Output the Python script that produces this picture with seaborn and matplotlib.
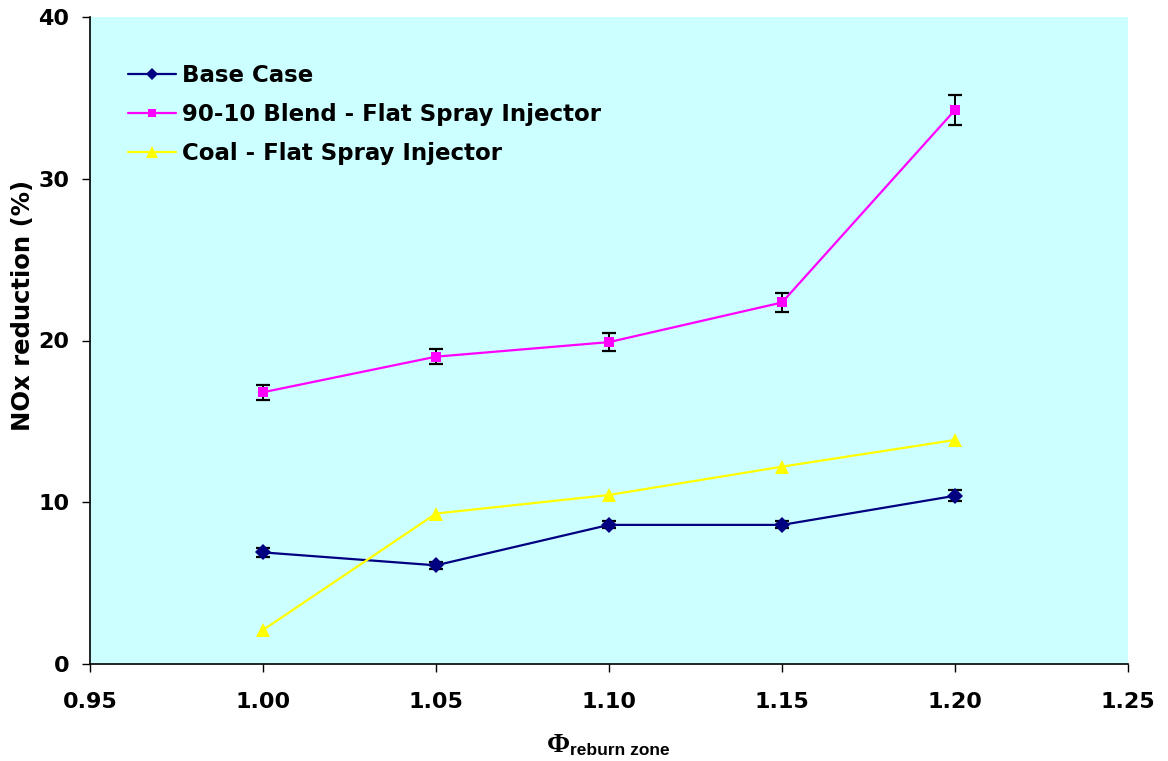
import matplotlib
matplotlib.use("Agg")
import matplotlib.pyplot as plt
import seaborn as sns
import pandas as pd
import numpy as np

phi = [1.00, 1.05, 1.10, 1.15, 1.20]
base_case = [6.9, 6.1, 8.6, 8.6, 10.4]
base_err = [0.27, 0.2, 0.22, 0.22, 0.33]
blend = [16.8, 19.0, 19.9, 22.35, 34.25]
blend_err = [0.45, 0.45, 0.57, 0.58, 0.93]
coal = [2.1, 9.3, 10.45, 12.2, 13.85]

series_names = ["Base Case", "90-10 Blend - Flat Spray Injector", "Coal - Flat Spray Injector"]
colors = ["#000080", "#FF00FF", "#FFFF00"]
markers = ["D", "s", "^"]
marker_sizes = [8.5, 7.5, 9.5]

sns.set_theme(style="ticks")
plt.rcParams['font.family'] = ['DejaVu Sans']
plt.rcParams['font.weight'] = 'bold'
plt.rcParams['text.color'] = 'black'
plt.rcParams['axes.labelcolor'] = 'black'

df = pd.DataFrame({
    "phi": phi * 3,
    "value": base_case + blend + coal,
    "series": [series_names[0]] * 5 + [series_names[1]] * 5 + [series_names[2]] * 5,
})

fig = plt.figure(figsize=(11.68, 7.61), dpi=100)
ax = fig.add_axes([90/1168, 1 - 664/761, (1128-90)/1168, (664-17)/761])
ax.set_facecolor("#CCFFFF")

ax.errorbar(phi, base_case, yerr=base_err, fmt="none", ecolor="black", elinewidth=1.4, capsize=5, capthick=1.6, zorder=2)
ax.errorbar(phi, blend, yerr=blend_err, fmt="none", ecolor="black", elinewidth=1.4, capsize=5, capthick=1.6, zorder=2)

sns.lineplot(data=df, x="phi", y="value", hue="series", style="series",
             palette=dict(zip(series_names, colors)),
             markers=dict(zip(series_names, markers)),
             dashes=False, linewidth=1.6, markersize=8, markeredgewidth=0,
             ax=ax, zorder=3)

ms_map = dict(zip(markers, marker_sizes))
for line in ax.get_lines():
    m = line.get_marker()
    if m in ms_map:
        line.set_markersize(ms_map[m])

ax.set_xlim(0.95, 1.25)
ax.set_ylim(0, 40)
xt = np.round(np.arange(0.95, 1.2501, 0.05), 2)
ax.set_xticks(xt)
ax.set_xticklabels([f"{t:.2f}" for t in xt])
ax.set_yticks([0, 10, 20, 30, 40])
ax.tick_params(axis="both", direction="out", length=6, width=1, labelsize=16, colors="black")
ax.tick_params(axis="y", pad=9)
ax.tick_params(axis="x", pad=14)
for lab in ax.get_xticklabels() + ax.get_yticklabels():
    lab.set_fontweight("bold")

for s in ["top", "right"]:
    ax.spines[s].set_visible(False)
for s in ["left", "bottom"]:
    ax.spines[s].set_color("black")
    ax.spines[s].set_linewidth(1.2)

ax.set_xlabel("")
ax.set_ylabel("")
fig.text(23/1168, 1 - 305/761, "NOx reduction (%)", rotation=90, ha="center", va="center",
         fontsize=17.5, fontweight="bold", family="DejaVu Sans")
fig.text(570/1168, 1 - 752/761, "Φ", ha="right", va="baseline", fontsize=20,
         family="Liberation Serif")
fig.text(570/1168, 1 - 755/761, "reburn zone", ha="left", va="baseline", fontsize=12.5,
         fontweight="bold", family="Liberation Sans")

handles, labels = ax.get_legend_handles_labels()
leg = ax.legend(handles, labels, loc="upper left", bbox_to_anchor=(0.0366, 0.928),
                frameon=False, fontsize=16.5, handlelength=2.1, handletextpad=0.25,
                labelspacing=0.7, borderpad=0, borderaxespad=0)
for t in leg.get_texts():
    t.set_fontweight("bold")
    t.set_color("black")
for h, ms in zip(leg.legend_handles, [6, 6, 8]):
    h.set_markersize(ms)
    h.set_linewidth(1.6)

fig.savefig("out.png", dpi=100, facecolor="white")
